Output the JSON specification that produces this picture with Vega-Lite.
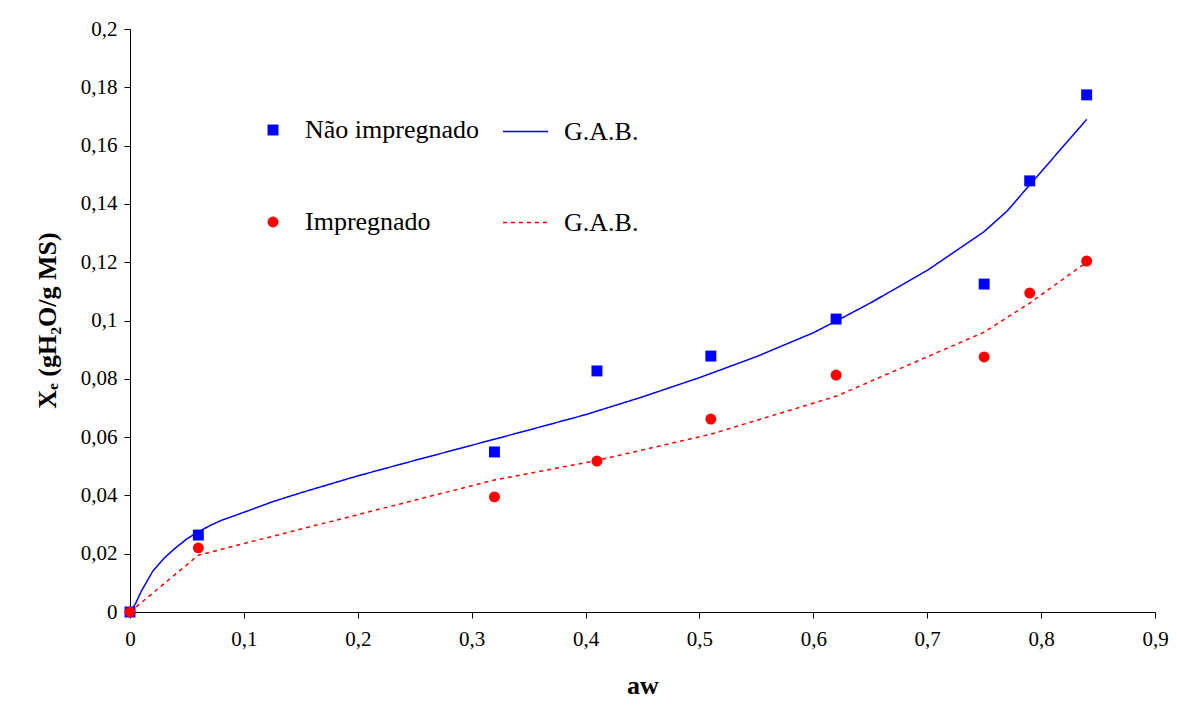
{
  "$schema": "https://vega.github.io/schema/vega-lite/v6.json",
  "width": 1025,
  "height": 583,
  "autosize": {"type": "none"},
  "padding": {"left": 130, "top": 29, "right": 22, "bottom": 112},
  "background": "white",
  "config": {
    "view": {"stroke": null},
    "font": "Liberation Serif",
    "axis": {
      "grid": false,
      "domainColor": "black",
      "tickColor": "black",
      "tickSize": 6,
      "labelFont": "Liberation Serif",
      "labelFontSize": 21,
      "labelColor": "black",
      "labelFlush": false,
      "labelOverlap": false,
      "titleFont": "Liberation Serif",
      "titleFontSize": 26,
      "titleFontWeight": "bold",
      "titleColor": "black"
    },
    "legend": {
      "labelFont": "Liberation Serif",
      "labelFontSize": 26,
      "labelColor": "black",
      "labelLimit": 400
    }
  },
  "datasets": {
    "pts": [
      {"aw": 0, "xe": 0, "series": "Não impregnado"},
      {"aw": 0.06, "xe": 0.0264, "series": "Não impregnado"},
      {"aw": 0.32, "xe": 0.0549, "series": "Não impregnado"},
      {"aw": 0.41, "xe": 0.0827, "series": "Não impregnado"},
      {"aw": 0.51, "xe": 0.0878, "series": "Não impregnado"},
      {"aw": 0.62, "xe": 0.1005, "series": "Não impregnado"},
      {"aw": 0.75, "xe": 0.1125, "series": "Não impregnado"},
      {"aw": 0.79, "xe": 0.1479, "series": "Não impregnado"},
      {"aw": 0.84, "xe": 0.1774, "series": "Não impregnado"},
      {"aw": 0, "xe": 0, "series": "Impregnado"},
      {"aw": 0.06, "xe": 0.022, "series": "Impregnado"},
      {"aw": 0.32, "xe": 0.0395, "series": "Impregnado"},
      {"aw": 0.41, "xe": 0.0518, "series": "Impregnado"},
      {"aw": 0.51, "xe": 0.0662, "series": "Impregnado"},
      {"aw": 0.62, "xe": 0.0813, "series": "Impregnado"},
      {"aw": 0.75, "xe": 0.0875, "series": "Impregnado"},
      {"aw": 0.79, "xe": 0.1094, "series": "Impregnado"},
      {"aw": 0.84, "xe": 0.1204, "series": "Impregnado"}
    ],
    "gab": [
      {"aw": 0, "xe": 0, "fit": "B"},
      {"aw": 0.005, "xe": 0.003, "fit": "B"},
      {"aw": 0.01, "xe": 0.0072, "fit": "B"},
      {"aw": 0.02, "xe": 0.014, "fit": "B"},
      {"aw": 0.03, "xe": 0.0185, "fit": "B"},
      {"aw": 0.04, "xe": 0.022, "fit": "B"},
      {"aw": 0.05, "xe": 0.0251, "fit": "B"},
      {"aw": 0.06, "xe": 0.0275, "fit": "B"},
      {"aw": 0.07, "xe": 0.0296, "fit": "B"},
      {"aw": 0.08, "xe": 0.0314, "fit": "B"},
      {"aw": 0.1, "xe": 0.0342, "fit": "B"},
      {"aw": 0.125, "xe": 0.0378, "fit": "B"},
      {"aw": 0.15, "xe": 0.0409, "fit": "B"},
      {"aw": 0.2, "xe": 0.0467, "fit": "B"},
      {"aw": 0.25, "xe": 0.052, "fit": "B"},
      {"aw": 0.3, "xe": 0.0572, "fit": "B"},
      {"aw": 0.35, "xe": 0.0624, "fit": "B"},
      {"aw": 0.4, "xe": 0.0677, "fit": "B"},
      {"aw": 0.45, "xe": 0.0738, "fit": "B"},
      {"aw": 0.5, "xe": 0.0804, "fit": "B"},
      {"aw": 0.55, "xe": 0.0876, "fit": "B"},
      {"aw": 0.6, "xe": 0.0958, "fit": "B"},
      {"aw": 0.62, "xe": 0.0998, "fit": "B"},
      {"aw": 0.65, "xe": 0.106, "fit": "B"},
      {"aw": 0.7, "xe": 0.1172, "fit": "B"},
      {"aw": 0.72, "xe": 0.1225, "fit": "B"},
      {"aw": 0.75, "xe": 0.1305, "fit": "B"},
      {"aw": 0.77, "xe": 0.1375, "fit": "B"},
      {"aw": 0.79, "xe": 0.1465, "fit": "B"},
      {"aw": 0.81, "xe": 0.1555, "fit": "B"},
      {"aw": 0.84, "xe": 0.169, "fit": "B"},
      {"aw": 0, "xe": 0, "fit": "D"},
      {"aw": 0.06, "xe": 0.0195, "fit": "D"},
      {"aw": 0.32, "xe": 0.0453, "fit": "D"},
      {"aw": 0.41, "xe": 0.052, "fit": "D"},
      {"aw": 0.51, "xe": 0.061, "fit": "D"},
      {"aw": 0.62, "xe": 0.074, "fit": "D"},
      {"aw": 0.75, "xe": 0.096, "fit": "D"},
      {"aw": 0.79, "xe": 0.106, "fit": "D"},
      {"aw": 0.84, "xe": 0.12, "fit": "D"}
    ]
  },
  "encoding": {
    "x": {
      "field": "aw", "type": "quantitative",
      "scale": {"domain": [0, 0.9], "nice": false, "zero": true},
      "axis": {
        "title": "aw",
        "values": [0, 0.1, 0.2, 0.3, 0.4, 0.5, 0.6, 0.7, 0.8, 0.9],
        "labelExpr": "replace(format(datum.value, '.2~f'), '.', ',')",
        "labelPadding": 10,
        "titleY": 73,
        "titleBaseline": "middle"
      }
    },
    "y": {
      "field": "xe", "type": "quantitative",
      "scale": {"domain": [0, 0.2], "nice": false},
      "axis": {
        "title": "Xₑ (gH₂O/g MS)",
        "values": [0, 0.02, 0.04, 0.06, 0.08, 0.1, 0.12, 0.14, 0.16, 0.18, 0.2],
        "labelExpr": "replace(format(datum.value, '.2~f'), '.', ',')",
        "labelPadding": 7,
        "titleX": -83,
        "titleY": 291,
        "titleAngle": -90,
        "titleAlign": "center",
        "titleBaseline": "middle"
      }
    }
  },
  "layer": [
    {
      "data": {"name": "gab"},
      "mark": {"type": "line", "strokeWidth": 1.5},
      "encoding": {
        "stroke": {
          "field": "fit", "type": "nominal",
          "scale": {"domain": ["B", "D"], "range": ["#0000ff", "#ff0000"]},
          "legend": {
            "title": null,
            "orient": "none",
            "legendX": 372,
            "legendY": 79,
            "rowPadding": 54,
            "symbolType": "stroke",
            "symbolSize": 2025,
            "symbolStrokeWidth": 1.5,
            "labelOffset": 15,
            "labelExpr": "'G.A.B.'"
          }
        },
        "strokeDash": {
          "field": "fit", "type": "nominal",
          "scale": {"domain": ["B", "D"], "range": [[1, 0], [4, 4]]},
          "legend": {
            "title": null,
            "orient": "none",
            "legendX": 372,
            "legendY": 79,
            "rowPadding": 54,
            "symbolType": "stroke",
            "symbolSize": 2025,
            "symbolStrokeWidth": 1.5,
            "labelOffset": 15,
            "labelExpr": "'G.A.B.'"
          }
        }
      }
    },
    {
      "data": {"name": "pts"},
      "mark": {"type": "point", "filled": true, "opacity": 1, "size": 120},
      "encoding": {
        "fill": {
          "field": "series", "type": "nominal",
          "scale": {"domain": ["Não impregnado", "Impregnado"], "range": ["#0000ff", "#ff0000"]},
          "legend": {
            "title": null,
            "orient": "none",
            "legendX": 130,
            "legendY": 88,
            "rowPadding": 66,
            "symbolSize": 120,
            "symbolOpacity": 1,
            "labelOffset": 19
          }
        },
        "shape": {
          "field": "series", "type": "nominal",
          "scale": {"domain": ["Não impregnado", "Impregnado"], "range": ["square", "circle"]},
          "legend": {
            "title": null,
            "orient": "none",
            "legendX": 130,
            "legendY": 88,
            "rowPadding": 66,
            "symbolSize": 120,
            "symbolOpacity": 1,
            "labelOffset": 19
          }
        }
      }
    }
  ]
}
